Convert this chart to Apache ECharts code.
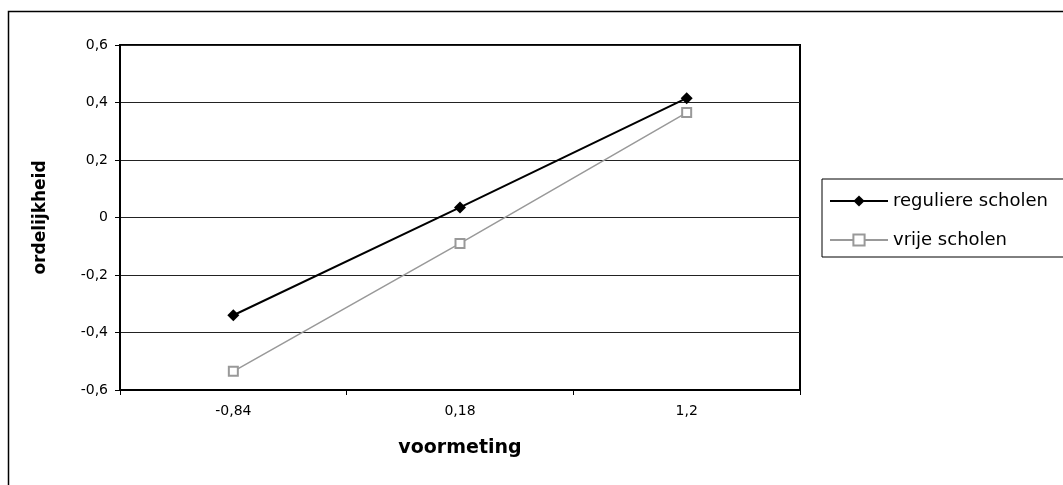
<!DOCTYPE html>
<html>
<head>
<meta charset="utf-8">
<title>ordelijkheid</title>
<script src="https://cdn.jsdelivr.net/npm/echarts@6/dist/echarts.min.js"></script>
<style>
	html, body { margin: 0; padding: 0; background: #fff; }
	#main { width: 1063px; height: 485px; }
</style>
</head>
<body>
<div id="main"></div>
<script>
// categorieen op de x-as (voormeting)
var categories = ['-0,84', '0,18', '1,2'];
// waarden per reeks
var regulierData = [-0.34, 0.035, 0.415];
var vrijeData = [-0.535, -0.09, 0.365];
var seriesNames = ['reguliere scholen', 'vrije scholen'];

var myChart = echarts.init(document.getElementById('main'), null, { renderer: 'canvas' });

var option = {
	animation: false,
	backgroundColor: '#fff',
	textStyle: { fontFamily: 'DejaVu Sans', color: '#000' },
	graphic: [{
		type: 'rect',
		shape: { x: 8.5, y: 11.5, width: 1200, height: 600 },
		style: { fill: 'none', stroke: '#000', lineWidth: 1.5 },
		silent: true
	}],
	grid: {
		left: 120,
		top: 45,
		width: 680,
		height: 345,
		show: true,
		borderColor: '#000',
		borderWidth: 2,
		backgroundColor: '#fff',
		containLabel: false,
		outerBoundsMode: 'none'
	},
	legend: {
		orient: 'vertical',
		left: 822,
		top: 179,
		data: seriesNames,
		borderColor: '#000',
		borderWidth: 1,
		padding: [12, 30, 7, 7],
		itemWidth: 58,
		itemHeight: 14,
		itemGap: 19,
		textStyle: { fontFamily: 'DejaVu Sans', fontSize: 18, color: '#000', lineHeight: 20 }
	},
	xAxis: {
		type: 'category',
		data: categories,
		boundaryGap: true,
		name: 'voormeting',
		nameLocation: 'middle',
		nameGap: 49,
		nameTextStyle: { fontFamily: 'DejaVu Sans', fontWeight: 'bold', fontSize: 19, color: '#000' },
		axisLine: { show: true, onZero: false, lineStyle: { color: '#000', width: 2 } },
		axisTick: { show: true, length: 5, alignWithLabel: false, lineStyle: { color: '#000', width: 1 } },
		axisLabel: { margin: 14, fontSize: 14, color: '#000', fontFamily: 'DejaVu Sans' },
		splitLine: { show: false }
	},
	yAxis: {
		type: 'value',
		min: -0.6,
		max: 0.6,
		interval: 0.2,
		name: 'ordelijkheid',
		nameLocation: 'middle',
		nameRotate: 90,
		nameGap: 71,
		nameTextStyle: { fontFamily: 'DejaVu Sans', fontWeight: 'bold', fontSize: 17, color: '#000' },
		axisLine: { show: true, lineStyle: { color: '#000', width: 2 } },
		axisTick: { show: true, length: 5, lineStyle: { color: '#000', width: 1 } },
		axisLabel: {
			margin: 12,
			fontSize: 14,
			color: '#000',
			fontFamily: 'DejaVu Sans',
			formatter: function(v) {
				return String(Math.round(v * 10) / 10).replace('.', ',');
			}
		},
		splitLine: { show: true, lineStyle: { color: '#222', width: 1 } }
	},
	series: [
		{
			name: seriesNames[0],
			type: 'line',
			data: regulierData,
			symbol: 'diamond',
			symbolSize: 12,
			itemStyle: { color: '#000' },
			lineStyle: { color: '#000', width: 2 },
			z: 3
		},
		{
			name: seriesNames[1],
			type: 'line',
			data: vrijeData,
			symbol: 'rect',
			symbolSize: 9,
			itemStyle: { color: '#fff', borderColor: '#999', borderWidth: 2 },
			lineStyle: { color: '#999', width: 1.5 },
			z: 2
		}
	]
};

myChart.setOption(option);
</script>
</body>
</html>
